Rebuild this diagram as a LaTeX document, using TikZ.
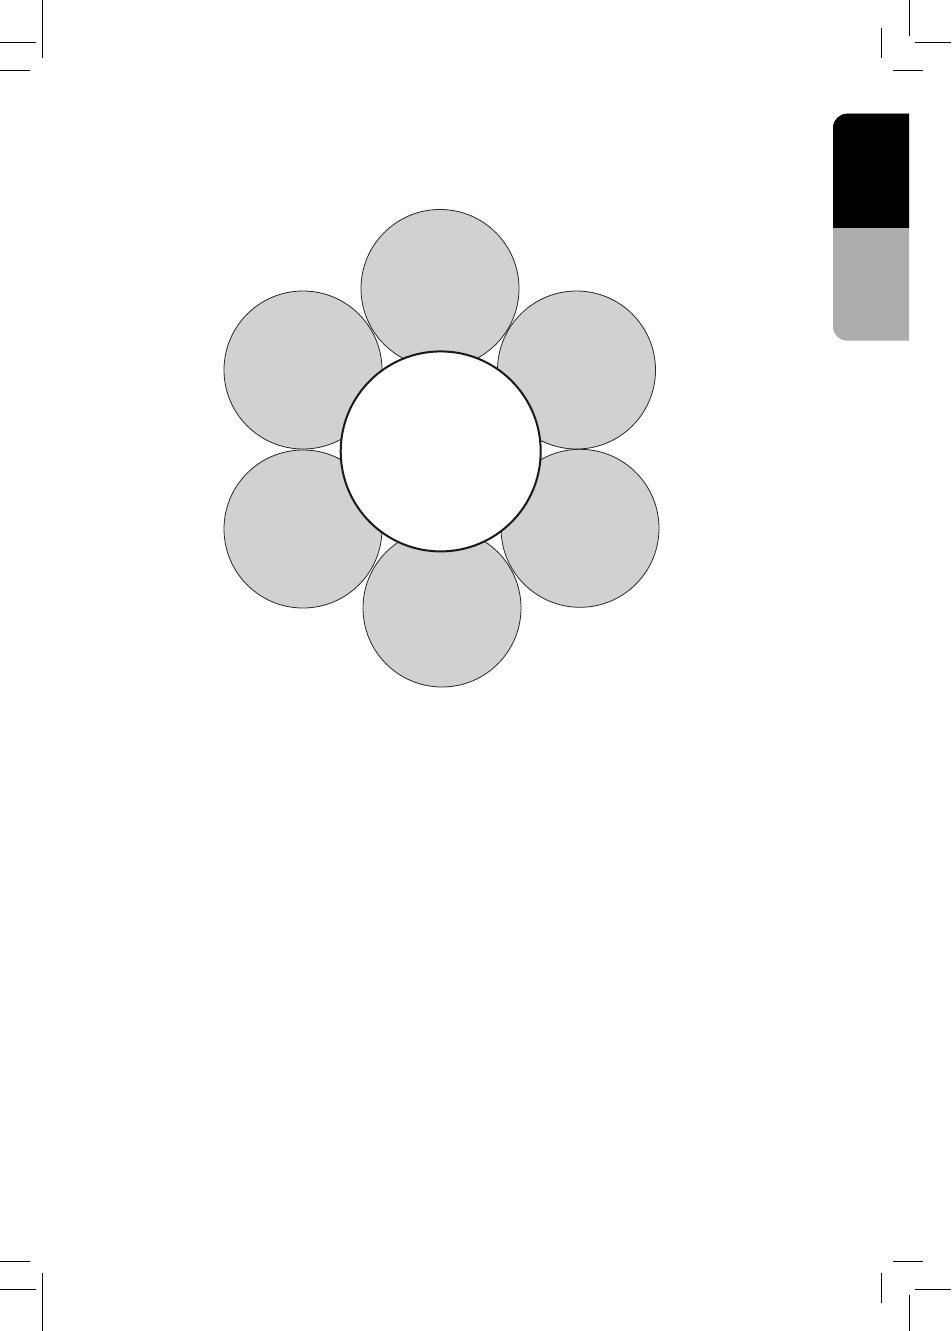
\documentclass[tikz,border=0pt]{standalone}
\usepackage{tikz}

\definecolor{petalgray}{gray}{0.82}
\definecolor{tabgray}{gray}{0.675}

\tikzset{
  petal/.style={circle, draw=black!85, fill=petalgray, line width=0.8pt,
    minimum size=158pt, inner sep=0pt},
  core/.style={circle, draw=black!90, fill=white, line width=2pt,
    minimum size=200pt, inner sep=0pt},
  cropmark/.style={line width=1.1pt}
}

\begin{document}
\begin{tikzpicture}[x=1pt, y=-1pt]

  \useasboundingbox (0,0) rectangle (951,1331);

  % petals
  \node[petal] (ptop) at (440,288.5) {};
  \node[petal] (pupleft) at (303,370) {};
  \node[petal] (pupright) at (576.5,370) {};
  \node[petal] (plowleft) at (303,529) {};
  \node[petal] (plowright) at (580,528.3) {};
  \node[petal] (pbottom) at (442,608) {};

  \node[core] (core) at (440.7,451.4) {};

  % side tab
  \fill[tabgray, rounded corners=14pt] (909,113.7) -- (833,113.7) -- (833,340.7)
    [sharp corners] -- (909,340.7) -- cycle;
  \begin{scope}
    \clip (833,113.7) rectangle (909,227);
    \fill[black, rounded corners=14pt] (909,113.7) -- (833,113.7) -- (833,340.7)
      [sharp corners] -- (909,340.7) -- cycle;
  \end{scope}

  % crop marks
  \draw[cropmark] (42.3,0) -- (42.3,57.7);
  \draw[cropmark] (0,42.3) -- (35.7,42.3);
  \draw[cropmark] (0,70.3) -- (29.7,70.3);

  \draw[cropmark] (909.3,0) -- (909.3,35.7);
  \draw[cropmark] (915,42.3) -- (951,42.3);
  \draw[cropmark] (881.3,28.3) -- (881.3,57.7);
  \draw[cropmark] (893,70.3) -- (922.7,70.3);

  \draw[cropmark] (0,1261.3) -- (29.7,1261.3);
  \draw[cropmark] (0,1289.3) -- (35.7,1289.3);
  \draw[cropmark] (42.3,1272.7) -- (42.3,1331);

  \draw[cropmark] (893,1261.3) -- (922.7,1261.3);
  \draw[cropmark] (881.3,1273) -- (881.3,1302.7);
  \draw[cropmark] (915,1289.3) -- (951,1289.3);
  \draw[cropmark] (909.3,1295) -- (909.3,1331);

\end{tikzpicture}
\end{document}
